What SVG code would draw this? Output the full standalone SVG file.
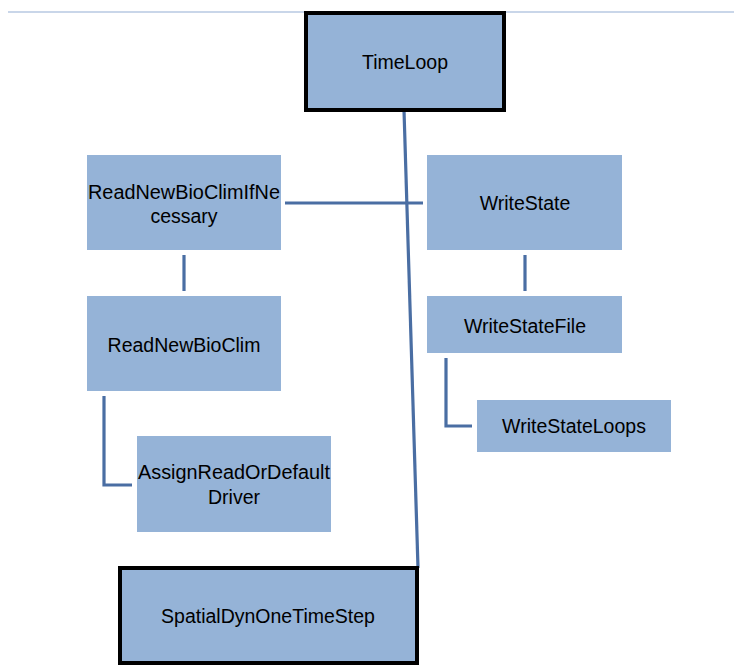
<svg xmlns="http://www.w3.org/2000/svg" width="734" height="667" viewBox="0 0 734 667">
<style>
.n{fill:#95b3d7;}
.b{fill:#95b3d7;stroke:#000;stroke-width:4;}
.t{font-family:"Liberation Sans",Arial,sans-serif;font-size:19.5px;fill:#000;text-anchor:middle;}
.c{fill:none;stroke:#4a6ea3;stroke-width:3.2;}
</style>
<rect width="734" height="667" fill="#fff"/>
<line x1="8" y1="12" x2="734" y2="12" stroke="#b7c9e2" stroke-width="1.5"/>
<g id="connectors">
<line class="c" x1="285" y1="203" x2="423" y2="203"/>
<line class="c" x1="404" y1="110" x2="418" y2="568"/>
<line class="c" x1="184" y1="255" x2="184" y2="291"/>
<line class="c" x1="525" y1="255" x2="525" y2="291"/>
<polyline class="c" points="446,358 446,426 472,426"/>
<polyline class="c" points="104,396 104,485 132,485"/>
</g>
<g id="TimeLoop"><rect class="b" x="306" y="13" width="198" height="97"/><text class="t" x="405" y="69">TimeLoop</text></g>
<g id="ReadNewBioClimIfNecessary"><rect class="n" x="87" y="155" width="194" height="95"/><text class="t" x="184" y="199" textLength="192" lengthAdjust="spacingAndGlyphs">ReadNewBioClimIfNe</text><text class="t" x="184" y="223">cessary</text></g>
<g id="WriteState"><rect class="n" x="427" y="155" width="195" height="95"/><text class="t" x="525" y="210">WriteState</text></g>
<g id="ReadNewBioClim"><rect class="n" x="87" y="296" width="194" height="95"/><text class="t" x="184" y="352">ReadNewBioClim</text></g>
<g id="WriteStateFile"><rect class="n" x="427" y="296" width="195" height="57"/><text class="t" x="525" y="333">WriteStateFile</text></g>
<g id="WriteStateLoops"><rect class="n" x="477" y="400" width="194" height="52"/><text class="t" x="574" y="433">WriteStateLoops</text></g>
<g id="AssignReadOrDefaultDriver"><rect class="n" x="137" y="436" width="194" height="96"/><text class="t" x="234" y="479" textLength="192" lengthAdjust="spacingAndGlyphs">AssignReadOrDefault</text><text class="t" x="234" y="504">Driver</text></g>
<g id="SpatialDynOneTimeStep"><rect class="b" x="120" y="568" width="297" height="95"/><text class="t" x="268" y="623">SpatialDynOneTimeStep</text></g>
</svg>
